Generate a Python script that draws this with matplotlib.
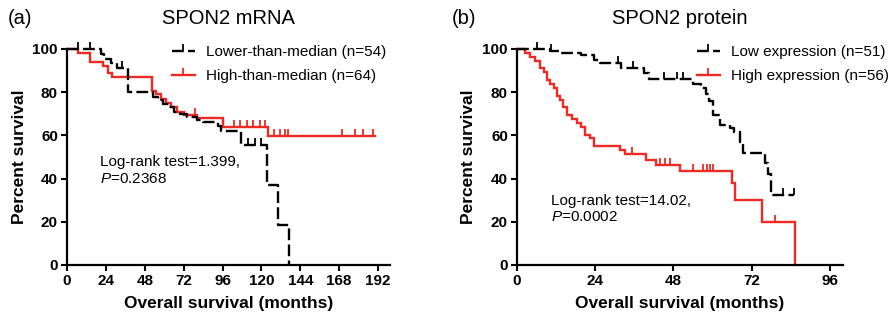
import numpy as np
import matplotlib
matplotlib.use("Agg")
import matplotlib.pyplot as plt
from matplotlib.lines import Line2D

plt.rcParams["font.family"] = ["Liberation Sans", "DejaVu Sans"]
plt.rcParams["mathtext.fontset"] = "custom"
plt.rcParams["mathtext.rm"] = "Liberation Sans"
plt.rcParams["mathtext.it"] = "Liberation Sans:italic"

# (a) SPON2 mRNA -- Kaplan-Meier steps (months, percent survival)
a_low_t = [0, 21, 23, 27, 31, 37.5, 53, 56, 59, 63, 66, 70, 74, 80, 84, 93.5, 95, 107.5, 123.5, 130.5, 137]
a_low_s = [100, 97.5, 95.5, 93.5, 91, 80, 78, 76.5, 74.5, 73, 71, 70, 68.5, 67, 66, 64.5, 62, 55.5, 37, 18.5, 0]
a_low_cens = [7, 14, 34, 112, 116, 120]
a_low_end = 137

a_high_t = [0, 7, 14, 22.5, 25.5, 27.5, 52.5, 55, 58, 61, 64, 68, 72, 80, 96.5, 124]
a_high_s = [100, 98, 94, 92, 89, 87, 80.5, 79, 77, 75, 73, 71, 69.5, 68, 63.7, 59.5]
a_high_cens = [79, 103, 107, 111, 115, 119, 122, 128, 131.5, 134.5, 136.5, 170, 178, 183, 189]
a_high_end = 190

# (b) SPON2 protein
b_low_t = [0, 10, 13.5, 19.5, 23.5, 25.5, 32, 39, 40.5, 54, 56.5, 58, 59, 60, 62.3, 65.3,
           66.5, 68.4, 69.4, 76.1, 77, 77.8]
b_low_s = [100, 99, 98, 97, 95, 93.5, 91, 89, 86, 84, 82, 79, 76, 69.5, 65, 63.2,
           61.5, 57, 52, 47, 42, 32.5]
b_low_cens = [6.2, 10.5, 31, 35.7, 45, 49, 51, 81.5, 85]
b_low_end = 85

b_high_t = [0, 2.5, 4, 5.5, 7, 8.2, 9.2, 10.2, 11.2, 12.2, 13.2, 14.2, 15.2, 16.8, 18.3, 19.5,
            21, 22.5, 23.5, 31.5, 33, 39.5, 42.5, 50, 65.8, 66.9, 75, 85.3]
b_high_s = [100, 98.2, 96.4, 94.6, 91, 89.2, 85.6, 83.8, 82, 78.4, 76.6, 73, 69.4, 67.6, 65.8, 64,
            60.4, 58.6, 55.3, 53.4, 51.5, 48.8, 46.2, 43.5, 38, 30, 20, 0]
b_high_cens = [35.2, 44, 45.5, 47, 54, 57, 58.3, 59.2, 60.1, 79]
b_high_end = 85.3

RED = "#ee2a22"
LW = 1.7
DASH = (5, 1.8)


def km(ax, t, s, cens, end, color, dashed):
    t = list(t) + ([end] if end > t[-1] else [])
    s = list(s) + ([s[-1]] if len(s) < len(t) else [])
    line, = ax.step(t, s, where="post", color=color, lw=LW, clip_on=False,
                    solid_joinstyle="miter")
    if dashed:
        line.set_dashes(DASH)
    idx = np.searchsorted(t, cens, side="right") - 1
    ax.plot(cens, np.array(s)[idx], ls="none", marker=2, ms=5, mew=1.3,
            color=color, clip_on=False)


def style(ax, xmax, xticks):
    ax.set_xlim(0, xmax)
    ax.set_ylim(0, 100)
    ax.set_xticks(xticks)
    ax.set_yticks([0, 20, 40, 60, 80, 100])
    for sp in ("top", "right"):
        ax.spines[sp].set_visible(False)
    for sp in ("left", "bottom"):
        ax.spines[sp].set_linewidth(1.6)
    ax.tick_params(width=1.5, length=4.5, pad=2, labelsize=11)
    for lab in ax.get_xticklabels() + ax.get_yticklabels():
        lab.set_fontweight("bold")
    ax.set_xlabel("Overall survival (months)", fontsize=12.5, fontweight="bold")
    ax.set_ylabel("Percent survival", fontsize=12.5, fontweight="bold")
    ax.xaxis.set_label_coords(0.5, -0.145)
    ax.yaxis.set_label_coords(-0.125, 0.5)


def handles(colors, dashed):
    hs = []
    for c, d in zip(colors, dashed):
        h = Line2D([], [], color=c, lw=LW, marker=2, ms=5, mew=1.3)
        if d:
            h.set_dashes(DASH)
        hs.append(h)
    return hs


fig = plt.figure(figsize=(8.94, 3.2), dpi=100)
ax1 = fig.add_axes([67 / 894, 55 / 320, 323 / 894, 216 / 320])
ax2 = fig.add_axes([517 / 894, 55 / 320, 326 / 894, 216 / 320])

km(ax1, a_high_t, a_high_s, a_high_cens, a_high_end, RED, False)
km(ax1, a_low_t, a_low_s, a_low_cens, a_low_end, "black", True)
style(ax1, 199.4, [0, 24, 48, 72, 96, 120, 144, 168, 192])
ax1.text(20.4, 47.7, "Log-rank test=1.399,", fontsize=11, va="center")
ax1.text(20.4, 39.8, "$\\mathit{P}$=0.2368", fontsize=11, va="center")
fig.legend(handles(["black", RED], [True, False]),
           ["Lower-than-median (n=54)", "High-than-median (n=64)"],
           loc="upper left", bbox_to_anchor=(172 / 894, 1 - 45 / 320), frameon=False,
           fontsize=11, borderpad=0, borderaxespad=0, handlelength=1.5,
           handletextpad=0.75, labelspacing=0.68, numpoints=1)

km(ax2, b_high_t, b_high_s, b_high_cens, b_high_end, RED, False)
km(ax2, b_low_t, b_low_s, b_low_cens, b_low_end, "black", True)
style(ax2, 100, [0, 24, 48, 72, 96])
ax2.text(10.3, 29.8, "Log-rank test=14.02,", fontsize=11, va="center")
ax2.text(10.3, 22.0, "$\\mathit{P}$=0.0002", fontsize=11, va="center")
fig.legend(handles(["black", RED], [True, False]),
           ["Low expression (n=51)", "High expression (n=56)"],
           loc="upper left", bbox_to_anchor=(697 / 894, 1 - 45 / 320), frameon=False,
           fontsize=11, borderpad=0, borderaxespad=0, handlelength=1.5,
           handletextpad=0.75, labelspacing=0.68, numpoints=1)

fig.text(228.5 / 894, 1 - 19 / 320, "SPON2 mRNA", fontsize=14.5, ha="center", va="center")
fig.text(680 / 894, 1 - 19 / 320, "SPON2 protein", fontsize=14.5, ha="center", va="center")
fig.text(8 / 894, 1 - 19 / 320, "(a)", fontsize=14.5, ha="left", va="center")
fig.text(452 / 894, 1 - 19 / 320, "(b)", fontsize=14.5, ha="left", va="center")

fig.savefig("out.png", dpi=100)
